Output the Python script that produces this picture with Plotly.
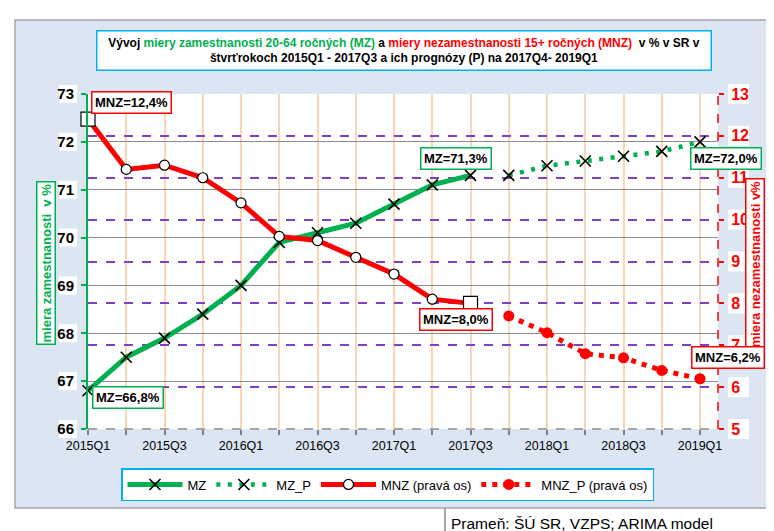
import plotly.graph_objects as go

# quarters on the x axis
quarters = ['2015Q1', '2015Q2', '2015Q3', '2015Q4', '2016Q1', '2016Q2', '2016Q3', '2016Q4',
            '2017Q1', '2017Q2', '2017Q3', '2017Q4', '2018Q1', '2018Q2', '2018Q3', '2018Q4', '2019Q1']

# miera zamestnanosti (left axis), actual + forecast
mz = [66.8, 67.5, 67.9, 68.4, 69.0, 69.9, 70.1, 70.3, 70.7, 71.1, 71.3]
mz_p = [71.3, 71.5, 71.6, 71.7, 71.8, 72.0]

# miera nezamestnanosti (right axis), actual + forecast
mnz = [12.4, 11.2, 11.3, 11.0, 10.4, 9.6, 9.5, 9.1, 8.7, 8.1, 8.0]
mnz_p = [7.7, 7.3, 6.8, 6.7, 6.4, 6.2]

# axis ticks
left_ticks = [66, 67, 68, 69, 70, 71, 72, 73]
right_ticks = [5, 6, 7, 8, 9, 10, 11, 12, 13]

x_hist = list(range(len(mz)))
x_prog = list(range(len(mz), len(mz) + len(mz_p)))

GREEN = '#00b050'
RED = '#ff0000'
FONT = 'Liberation Sans, Arial'

W, H = 774, 531
ML, MR, MT, MB = 80, 64, 86, 110
LEFT_RANGE = [left_ticks[0], left_ticks[-1]]
RIGHT_RANGE = [right_ticks[0], right_ticks[-1]]


def px2x(px):
    return (px - ML) / (W - ML - MR)


def py2y(py):
    return (H - MB - py) / (H - MT - MB)


def pct(v):
    return f"{v:.1f}%".replace('.', ',')


fig = go.Figure()

x_marker = dict(symbol='x-thin', size=11, color='black', line=dict(color='black', width=1.6))

fig.add_trace(go.Scatter(
    x=x_hist, y=mz, name='MZ', mode='lines+markers',
    line=dict(color=GREEN, width=5), marker=x_marker, cliponaxis=False))

fig.add_trace(go.Scatter(
    x=x_prog, y=mz_p, name='MZ_P', mode='lines+markers',
    line=dict(color=GREEN, width=4.5, dash='4px,7.5px'), marker=x_marker, cliponaxis=False))

fig.add_trace(go.Scatter(
    x=x_hist, y=mnz, name='MNZ (pravá os)', mode='lines+markers', yaxis='y2',
    line=dict(color=RED, width=5),
    marker=dict(symbol='circle', size=10, color='white', line=dict(color='black', width=1.2)),
    cliponaxis=False))

# square markers on the first and last actual MNZ value
fig.add_trace(go.Scatter(
    x=[x_hist[0], x_hist[-1]], y=[mnz[0], mnz[-1]], mode='markers', yaxis='y2', showlegend=False,
    marker=dict(symbol='square', size=14, color='white', line=dict(color='black', width=1.2)),
    cliponaxis=False, hoverinfo='skip'))

fig.add_trace(go.Scatter(
    x=x_prog, y=mnz_p, name='MNZ_P (pravá os)', mode='lines+markers', yaxis='y2',
    line=dict(color=RED, width=5, dash='5px,6px'),
    marker=dict(symbol='circle', size=11, color=RED), cliponaxis=False))

# background frame and white plot area
shapes = [
    dict(type='rect', xref='paper', yref='paper', layer='below',
         x0=px2x(7), x1=px2x(790), y0=py2y(500), y1=py2y(12),
         fillcolor='#dce6f2', line=dict(color='#a6a6a6', width=1.5)),
    dict(type='rect', xref='paper', yref='paper', layer='below',
         x0=0, x1=1, y0=0, y1=1, fillcolor='white', line=dict(width=0)),
    # dashed red right axis line
    dict(type='line', xref='paper', yref='paper', x0=1, x1=1, y0=0, y1=1,
         line=dict(color=RED, width=1.5, dash='dash')),
    # dashed grey bottom line
    dict(type='line', xref='paper', yref='paper', x0=0, x1=1, y0=0, y1=0,
         line=dict(color='#a6a6a6', width=2, dash='dash')),
    # source separator
    dict(type='line', xref='paper', yref='paper', x0=px2x(437), x1=px2x(437), y0=py2y(500), y1=py2y(540),
         line=dict(color='#a6a6a6', width=2)),
]

# white boxes behind the tick labels
for t in left_ticks:
    yc = (t - LEFT_RANGE[0]) / (LEFT_RANGE[1] - LEFT_RANGE[0])
    shapes.append(dict(type='rect', xref='paper', yref='paper', layer='below',
                       x0=px2x(51), x1=px2x(69), ysizemode='pixel', yanchor=yc, y0=-9, y1=9,
                       fillcolor='white', line=dict(width=0)))
for t in right_ticks:
    yc = (t - RIGHT_RANGE[0]) / (RIGHT_RANGE[1] - RIGHT_RANGE[0])
    shapes.append(dict(type='rect', xref='paper', yref='paper', layer='below',
                       x0=px2x(720), x1=px2x(741), ysizemode='pixel', yanchor=yc, y0=-10, y1=10,
                       fillcolor='white', line=dict(width=0)))

title_text = ('<b>Vývoj <span style="color:#00b050">miery zamestnanosti 20-64 ročných (MZ)</span> a '
              '<span style="color:#ff0000">miery nezamestnanosti 15+ ročných (MNZ)</span>  v % v SR v<br>'
              'štvrťrokoch 2015Q1 - 2017Q3 a ich prognózy (P) na 2017Q4- 2019Q1</b>')

annotations = [
    dict(text=title_text, xref='paper', yref='paper', x=px2x(395.5), y=py2y(43),
         xanchor='center', yanchor='middle',
         showarrow=False, align='center', width=611, height=36,
         font=dict(family=FONT, size=12, color='black'),
         bgcolor='white', bordercolor='#00b0f0', borderwidth=1.5),
    dict(text='<b>miera zamestnanosti  v %</b>', xref='paper', yref='paper', x=px2x(38), y=py2y(255),
         xanchor='center', yanchor='middle',
         showarrow=False, textangle=-90, font=dict(family=FONT, size=13, color=GREEN),
         bgcolor='white', bordercolor=GREEN, borderwidth=1.5, borderpad=1),
    dict(text='<b>miera nezamestnanosti v%</b>', xref='paper', yref='paper', x=px2x(747), y=py2y(256),
         xanchor='center', yanchor='middle',
         showarrow=False, textangle=-90, font=dict(family=FONT, size=13, color=RED),
         bgcolor='white', bordercolor=RED, borderwidth=1.5, borderpad=1),
    dict(text='Prameň: ŠÚ SR, VZPS; ARIMA model', xref='paper', yref='paper',
         x=px2x(441), y=py2y(515), xanchor='left', yanchor='middle', showarrow=False,
         font=dict(family=FONT, size=15.5, color='black')),
]

# value labels
labels = [
    (f"MNZ={pct(mnz[0])}", 123, 94.5, RED),
    (f"MZ={pct(mz[0])}", 120, 389.5, GREEN),
    (f"MZ={pct(mz[-1])}", 448, 150.5, GREEN),
    (f"MNZ={pct(mnz[-1])}", 447.5, 311.5, RED),
    (f"MZ={pct(mz_p[-1])}", 718, 150.5, GREEN),
    (f"MNZ={pct(mnz_p[-1])}", 720, 349.5, RED),
]
for txt, cx, cy, col in labels:
    annotations.append(dict(
        text=f'<b>{txt}</b>', xref='paper', yref='paper', x=px2x(cx), y=py2y(cy),
        xanchor='center', yanchor='middle',
        showarrow=False, font=dict(family=FONT, size=13, color='black'),
        bgcolor='white', bordercolor=col, borderwidth=1.5, borderpad=2.5))

fig.update_layout(
    width=W, height=H,
    margin=dict(l=ML, r=MR, t=MT, b=MB, autoexpand=False),
    paper_bgcolor='white', plot_bgcolor='white',
    shapes=shapes, annotations=annotations,
    xaxis=dict(
        range=[0, 16.47], tickmode='array', tickvals=list(range(len(quarters))),
        ticktext=[q if i % 2 == 0 else '' for i, q in enumerate(quarters)],
        ticks='outside', ticklen=5, tickcolor='#808080', tickwidth=1.5,
        showgrid=True, gridcolor='#fcd5b4', gridwidth=1.5, zeroline=False,
        showline=False, tickfont=dict(family=FONT, size=12.5, color='black')),
    yaxis=dict(
        range=LEFT_RANGE, tickmode='array', tickvals=left_ticks,
        ticks='outside', ticklen=5, tickcolor=GREEN, tickwidth=1.5, ticklabelstandoff=4,
        showgrid=True, gridcolor='#8c8c8c', gridwidth=1.2, zeroline=False,
        showline=True, linecolor=GREEN, linewidth=2,
        tickfont=dict(family=FONT, size=15, color='black', weight='bold')),
    yaxis2=dict(
        range=RIGHT_RANGE, tickmode='array', tickvals=right_ticks, overlaying='y', side='right',
        ticks='outside', ticklen=5, tickcolor=RED, tickwidth=1.5, ticklabelstandoff=4,
        showgrid=True, gridcolor='#8040c0', gridwidth=1.5, griddash='dash', zeroline=False,
        showline=False, tickfont=dict(family=FONT, size=16, color=RED, weight='bold')),
    legend=dict(
        orientation='h', xref='paper', yref='paper', x=px2x(113), y=py2y(460),
        xanchor='left', yanchor='top', bgcolor='white', bordercolor='#00b0f0', borderwidth=1.5,
        font=dict(family=FONT, size=13, color='black'), itemwidth=55,
        tracegroupgap=0),
    showlegend=True,
)

fig.write_html("out.html")
